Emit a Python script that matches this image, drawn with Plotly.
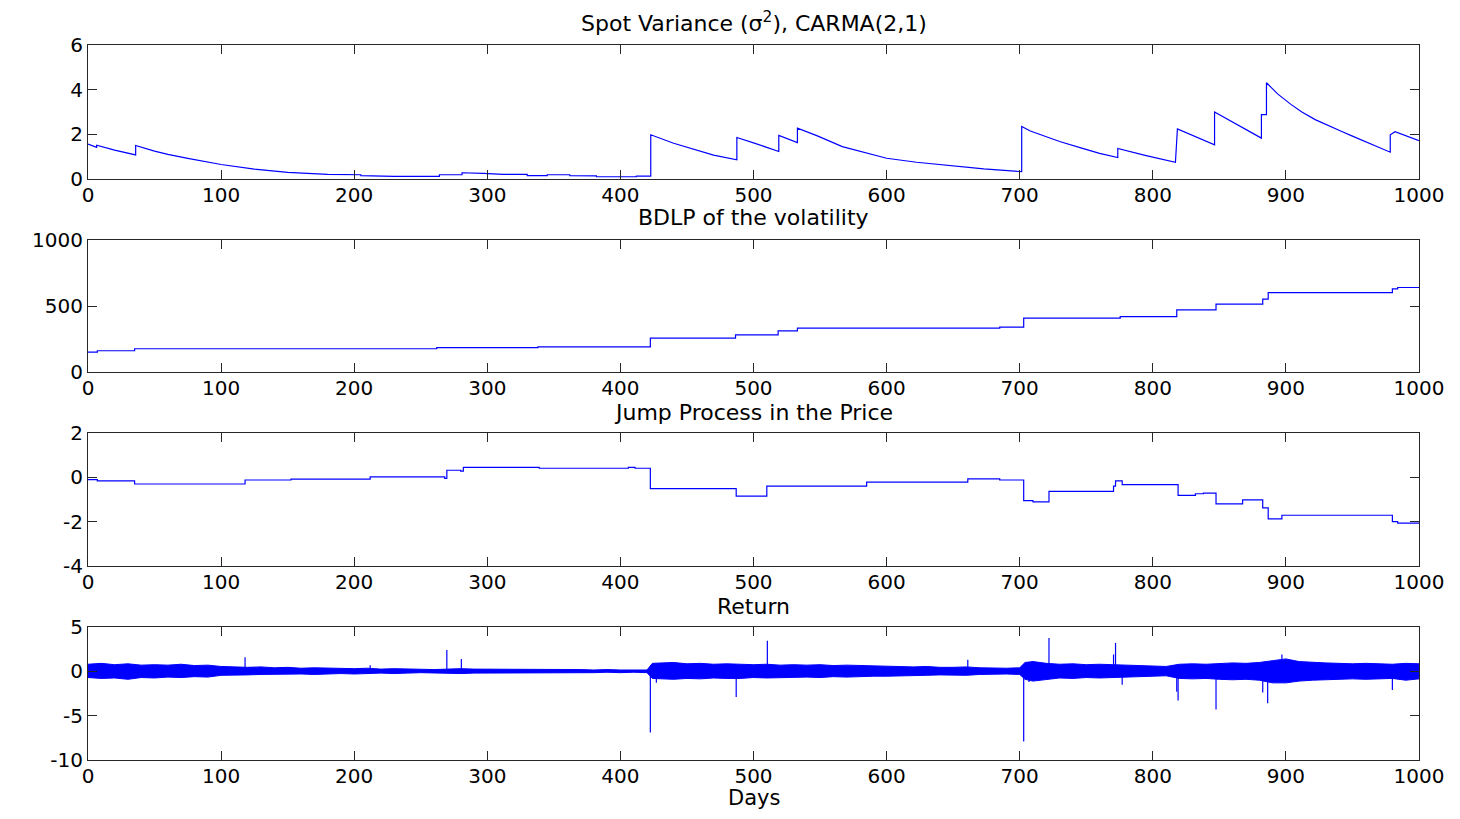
import plotly.graph_objects as go

# ---------------- data ----------------
spot_days = [0, 6.5, 6.5, 20, 35.8, 35.8, 50, 60, 75, 100, 125, 150, 180, 200, 205, 205, 230, 264, 264, 281,
             281, 297, 312, 330, 330, 345, 345, 362, 362, 382, 382, 412, 412, 422.8, 422.8, 440, 455, 470, 487.5, 487.5,
             500, 519, 519, 533, 533, 548, 566.7, 582, 600, 622.5, 648, 673, 701.5, 701.5, 708, 719, 730, 746.6, 760,
             773.7, 773.7, 795, 817, 818.5, 830, 846.4, 846.4, 864, 881.6, 881.6, 885.4, 885.4, 894, 904, 912, 922,
             932, 942, 950, 959.6, 968, 978.4, 978.4, 982, 1000]
spot_vals = [1.56, 1.42, 1.51, 1.29, 1.08, 1.50, 1.25, 1.10, 0.92, 0.65, 0.44, 0.30, 0.21, 0.20, 0.19, 0.15, 0.12, 0.12, 0.19, 0.19,
             0.28, 0.25, 0.21, 0.21, 0.15, 0.15, 0.19, 0.19, 0.15, 0.14, 0.10, 0.10, 0.13, 0.13, 1.98, 1.60, 1.32, 1.07, 0.86, 1.86,
             1.62, 1.23, 1.95, 1.63, 2.28, 1.93, 1.45, 1.20, 0.93, 0.75, 0.585, 0.45, 0.33, 2.35, 2.15, 1.90, 1.68, 1.38, 1.15,
             0.96, 1.37, 1.05, 0.75, 2.24, 1.95, 1.53, 3.00, 2.43, 1.83, 2.88, 2.88, 4.31, 3.80, 3.33, 3.00, 2.66,
             2.38, 2.13, 1.92, 1.68, 1.48, 1.20, 1.98, 2.12, 1.72]

bdlp_days = [0, 7, 35, 262, 338, 422.5, 486.5, 518.5, 533, 685, 703, 775.5, 818, 847.5, 882.6, 886.7, 980, 984, 1000]
bdlp_vals = [151, 161, 176, 184, 191, 257, 282, 312, 332, 340, 408, 420, 471, 514, 552, 602, 630, 640, 640]

jump_days = [0, 7, 35, 118, 152.5, 212, 268, 269.6, 280, 282, 339, 406, 411, 422.5,
             487, 510, 585, 661, 685, 703, 710, 722,
             770.5, 772, 777, 819, 832, 838, 847.5, 867.5, 882.6, 886.7, 897,
             980, 984, 1000]
jump_vals = [-0.10, -0.16, -0.30, -0.12, -0.08, 0.02, -0.05, 0.32, 0.28, 0.45, 0.41, 0.45, 0.41, -0.51,
             -0.85, -0.40, -0.22, -0.07, -0.12, -1.05, -1.11, -0.63,
             -0.40, -0.16, -0.33, -0.81, -0.74, -0.71, -1.20, -1.02, -1.38, -1.87, -1.71,
             -2.00, -2.07, -2.07]

# return: envelope of the dense noise band
band_days = list(range(0, 421, 10)) + [424] + list(range(430, 701, 10)) + [704] + list(range(710, 1001, 10))
band_hi = [0.80, 0.90, 0.75, 0.85, 0.70, 0.75, 0.70, 0.80, 0.65, 0.70,
           0.55, 0.50, 0.45, 0.50, 0.40, 0.45, 0.35, 0.40, 0.35, 0.35,
           0.30, 0.35, 0.25, 0.30, 0.25, 0.20, 0.20, 0.25, 0.30, 0.25,
           0.25, 0.20, 0.25, 0.20, 0.20, 0.25, 0.20, 0.20, 0.15, 0.20,
           0.15, 0.15, 0.15,
           0.90,
           0.95, 1.00, 0.85, 0.90, 0.80, 0.85, 0.80, 0.75, 0.80, 0.70,
           0.75, 0.70, 0.75, 0.65, 0.70, 0.65, 0.60, 0.60, 0.55, 0.50,
           0.55, 0.45, 0.45, 0.50, 0.40, 0.35, 0.35, 0.40,
           1.00,
           1.10, 0.90, 0.80, 0.85, 0.75, 0.80, 0.75, 0.70, 0.65, 0.60, 0.55,
           0.80, 0.85, 0.80, 0.90, 0.95, 0.90, 1.00, 1.20, 1.40, 1.10,
           1.00, 0.95, 0.90, 0.85, 0.90, 0.85, 0.80, 0.90, 0.85]
band_lo = [-0.70, -0.80, -0.75, -0.90, -0.70, -0.75, -0.65, -0.70, -0.60, -0.65,
           -0.45, -0.40, -0.40, -0.35, -0.35, -0.30, -0.30, -0.35, -0.30, -0.25,
           -0.30, -0.25, -0.20, -0.25, -0.20, -0.15, -0.15, -0.20, -0.25, -0.20,
           -0.20, -0.20, -0.15, -0.20, -0.15, -0.20, -0.15, -0.15, -0.15, -0.10,
           -0.15, -0.10, -0.15,
           -0.80,
           -0.80, -0.90, -0.80, -0.85, -0.75, -0.80, -0.80, -0.70, -0.75, -0.70,
           -0.70, -0.65, -0.70, -0.60, -0.65, -0.60, -0.55, -0.55, -0.50, -0.50,
           -0.45, -0.40, -0.40, -0.45, -0.35, -0.30, -0.30, -0.35,
           -0.90,
           -1.10, -0.90, -0.75, -0.80, -0.70, -0.75, -0.70, -0.65, -0.60, -0.55, -0.50,
           -0.80, -0.85, -0.80, -0.90, -0.95, -0.90, -1.00, -1.30, -1.30, -1.10,
           -1.00, -0.90, -0.90, -0.85, -0.90, -0.85, -0.80, -1.00, -0.85]

spike_days = [118, 212, 269.6, 280.5, 422.5, 427, 487, 510.4, 661, 703, 707, 722,
              770.5, 772, 777, 818, 819, 847.5, 882.6, 886.3, 897, 980]
spike_vals = [1.6, 0.7, 2.4, 1.4, -6.9, -1.3, -2.9, 3.45, 1.3, -7.9, -1.2, 3.76,
              1.9, 3.2, -1.5, -2.3, -3.3, -4.3, -2.4, -3.6, 1.9, -2.1]

x_ticks = list(range(0, 1001, 100))
y_ticks = [[0, 2, 4, 6], [0, 500, 1000], [-4, -2, 0, 2], [-10, -5, 0, 5]]
y_ranges = [[0, 6], [0, 1000], [-4, 2], [-10, 5]]
titles = ["Spot Variance (σ<sup>2</sup>), CARMA(2,1)", "BDLP of the volatility",
          "Jump Process in the Price", "Return"]
x_label = "Days"

assert len(spot_days) == len(spot_vals)
assert len(band_days) == len(band_hi) == len(band_lo)

# ---------------- figure ----------------
OFF = 8                      # default page margin of the html body
W, H = 1460 - 2 * OFF, 819 - 2 * OFF
BLUE = "#0000FF"
AX = "#262626"
FONT = "DejaVu Sans"


def fx(px):
    return (px - OFF) / W


def fy(py):
    return 1 - (py - OFF) / H


fig = go.Figure()
fig.add_trace(go.Scatter(x=spot_days, y=spot_vals, mode="lines",
                         line=dict(color=BLUE, width=1.2), xaxis="x", yaxis="y"))
fig.add_trace(go.Scatter(x=bdlp_days, y=bdlp_vals, mode="lines", line_shape="hv",
                         line=dict(color=BLUE, width=1.2), xaxis="x2", yaxis="y2"))
fig.add_trace(go.Scatter(x=jump_days, y=jump_vals, mode="lines", line_shape="hv",
                         line=dict(color=BLUE, width=1.2), xaxis="x3", yaxis="y3"))

poly_x = band_days + band_days[::-1]
poly_y = band_hi + band_lo[::-1]
fig.add_trace(go.Scatter(x=poly_x, y=poly_y, mode="lines", fill="toself", fillcolor=BLUE,
                         line=dict(color=BLUE, width=1), xaxis="x4", yaxis="y4"))
sx, sy = [], []
for d, v in zip(spike_days, spike_vals):
    sx += [d, d, None]
    sy += [0, v, None]
fig.add_trace(go.Scatter(x=sx, y=sy, mode="lines", line=dict(color=BLUE, width=1.2),
                         xaxis="x4", yaxis="y4"))

# panel pixel boxes (top, bottom) in page pixels
boxes = [(45, 179), (240, 372), (433, 566), (627, 760)]
xl, xr = 88, 1419

common = dict(showline=True, linecolor=AX, linewidth=1, mirror="allticks", ticks="inside",
              ticklen=9, tickcolor=AX, tickwidth=1, showgrid=False, zeroline=False,
              automargin=False, tickfont=dict(family=FONT, size=20, color="black"))
layout = dict(width=W, height=H, margin=dict(l=0, r=0, t=0, b=0, pad=0), showlegend=False,
              paper_bgcolor="white", plot_bgcolor="white")
for i, (top, bot) in enumerate(boxes):
    sfx = "" if i == 0 else str(i + 1)
    layout["xaxis" + sfx] = dict(domain=[fx(xl), fx(xr)], range=[0, 1000], tickvals=x_ticks,
                                 ticktext=[str(t) for t in x_ticks], anchor="y" + sfx,
                                 ticklabelstandoff=-2, **common)
    layout["yaxis" + sfx] = dict(domain=[fy(bot), fy(top)], range=y_ranges[i],
                                 tickvals=y_ticks[i], ticktext=[str(t) for t in y_ticks[i]],
                                 anchor="x" + sfx, **common)
fig.update_layout(**layout)

title_y = [22, 218, 412, 606]
cx = fx((xl + xr) / 2)
for t, ty in zip(titles, title_y):
    fig.add_annotation(text=t, xref="paper", yref="paper", x=cx, y=fy(ty), showarrow=False,
                       xanchor="center", yanchor="middle", font=dict(family=FONT, size=22, color="black"))
fig.add_annotation(text=x_label, xref="paper", yref="paper", x=cx, y=fy(798), showarrow=False,
                   xanchor="center", yanchor="middle", font=dict(family=FONT, size=21, color="black"))

fig.write_html("out.html")
